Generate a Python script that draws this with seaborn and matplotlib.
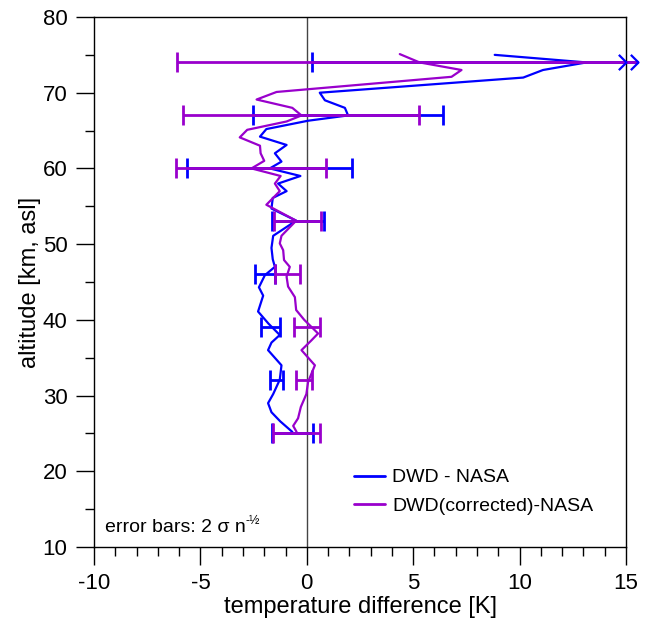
import numpy as np
import pandas as pd
import matplotlib
matplotlib.use("Agg")
import matplotlib.pyplot as plt
from matplotlib.path import Path
from matplotlib.ticker import MultipleLocator
import seaborn as sns

# ---- data ----
alt_blue = [75.0, 74.0, 73.0, 72.0, 70.0, 69.0, 68.0, 67.0, 66.3, 65.2, 64.2, 63.1, 62.0, 60.9,
            60.0, 59.0, 58.0, 57.0, 56.1, 54.7, 53.1, 51.1, 49.5, 48.0, 47.0, 45.9, 44.3, 43.2,
            41.1, 39.5, 38.0, 37.0, 36.0, 34.0, 32.1, 30.2, 29.0, 27.8, 26.6, 25.2]
dT_blue = [8.83, 13.14, 11.1, 10.17, 0.61, 0.85, 1.79, 1.94, 0.06, -1.9, -2.2, -0.95, -1.5, -1.19,
           -1.74, -0.3, -1.35, -0.95, -1.6, -1.66, -0.5, -1.58, -1.66, -1.6, -1.5, -1.97, -2.25, -2.05,
           -2.29, -1.8, -1.27, -1.66, -1.82, -1.19, -1.27, -1.58, -1.82, -1.66, -1.25, -0.68]

alt_purple = [75.1, 74.0, 73.0, 72.1, 70.1, 69.1, 68.0, 67.0, 66.2, 65.1, 64.1, 63.0, 62.0, 61.0,
              60.0, 59.0, 58.0, 57.0, 55.2, 53.1, 51.1, 50.1, 49.2, 47.9, 47.0, 45.7, 44.4, 43.0,
              41.3, 40.0, 38.2, 37.3, 36.0, 34.0, 31.8, 30.2, 28.5, 27.0, 26.0, 25.2]
dT_purple = [4.37, 5.3, 7.27, 6.8, -1.42, -2.36, -0.68, -0.25, -0.95, -2.8, -3.15, -2.2, -2.17, -2.0,
             -2.6, -1.23, -1.5, -1.27, -1.9, -0.5, -1.19, -1.27, -1.11, -1.07, -0.8, -0.95, -0.88, -0.56,
             -0.5, -0.12, 0.53, 0.22, -0.25, 0.38, 0.06, -0.02, -0.28, -0.41, -0.64, -0.48]

err_alt = [74, 67, 60, 53, 46, 39, 32, 25]
err_center_blue = [13.14, 1.94, -1.76, -0.41, -1.97, -1.72, -1.41, -0.68]
err_half_blue = [12.9, 4.45, 3.89, 1.22, 0.47, 0.45, 0.30, 0.95]
err_center_purple = [5.3, -0.26, -2.62, -0.44, -0.90, 0.0, -0.12, -0.48]
err_half_purple = [11.4, 5.55, 3.54, 1.10, 0.60, 0.60, 0.38, 1.10]

series_names = ["DWD - NASA", "DWD(corrected)-NASA"]
colors = ["#0000FF", "#9900CC"]

XMIN, XMAX = -10, 15
YMIN, YMAX = 10, 80

sns.set_style("white")
plt.rcParams["font.family"] = ["Liberation Sans", "DejaVu Sans"]
plt.rcParams["axes.unicode_minus"] = False
plt.rcParams["text.color"] = "black"
plt.rcParams["axes.labelcolor"] = "black"
plt.rcParams["xtick.color"] = "black"
plt.rcParams["ytick.color"] = "black"

df = pd.concat([
    pd.DataFrame({"dT": dT_blue, "alt": alt_blue, "series": series_names[0]}),
    pd.DataFrame({"dT": dT_purple, "alt": alt_purple, "series": series_names[1]}),
], ignore_index=True)

fig = plt.figure(figsize=(6.51, 6.23), dpi=100)
ax = fig.add_axes([94 / 651, 1 - 547 / 623, 532 / 651, 530 / 623])

ax.axvline(0, color="#444444", lw=1.0, zorder=1)

sns.lineplot(data=df, x="dT", y="alt", hue="series", sort=False, estimator=None,
             palette=dict(zip(series_names, colors)), lw=1.6, ax=ax, zorder=3)

chevron = Path([(-1, 1), (0, 0), (-1, -1)], [Path.MOVETO, Path.LINETO, Path.LINETO])
over = 0.55
for centers, halves, col in [(err_center_blue, err_half_blue, colors[0]),
                             (err_center_purple, err_half_purple, colors[1])]:
    for a, c, h in zip(err_alt, centers, halves):
        left, right = c - h, c + h
        right_draw = min(right, XMAX + over)
        ax.hlines(a, left, right_draw, color=col, lw=2.0, clip_on=False, zorder=4)
        capx = [left] + ([right] if right <= XMAX else [])
        ax.plot(capx, [a] * len(capx), ls="none", marker="|", ms=14, mew=2.0,
                color=col, clip_on=False, zorder=4)

# arrows marking error bars that leave the plot
ax.plot([XMAX, XMAX + over], [err_alt[0]] * 2, ls="none", marker=chevron, ms=11,
        mew=1.6, mfc="none", mec=colors[0], clip_on=False, zorder=5)

ax.set_xlim(XMIN, XMAX)
ax.set_ylim(YMIN, YMAX)
ax.xaxis.set_major_locator(MultipleLocator(5))
ax.xaxis.set_minor_locator(MultipleLocator(1))
ax.yaxis.set_major_locator(MultipleLocator(10))
ax.yaxis.set_minor_locator(MultipleLocator(5))
ax.tick_params(which="major", direction="out", length=13, width=1.0, labelsize=16,
               bottom=True, left=True, top=False, right=False, colors="black", pad=6)
ax.tick_params(which="minor", direction="out", length=6.5, width=1.0,
               bottom=True, left=True, top=False, right=False, colors="black")
for sp in ax.spines.values():
    sp.set_color("black")
    sp.set_linewidth(1.0)

ax.set_xlabel("temperature difference [K]", fontsize=17, labelpad=1, color="black")
ax.set_ylabel("altitude [km, asl]", fontsize=17, labelpad=1, color="black")

handles, labels = ax.get_legend_handles_labels()
for hd in handles:
    hd.set_linewidth(2.0)
leg = ax.legend(handles, labels, loc="lower left", bbox_to_anchor=(0.455, 0.028), frameon=False,
                fontsize=14, handlelength=1.6, handletextpad=0.4, labelspacing=0.55)
for txt in leg.get_texts():
    txt.set_color("black")

t1 = ax.text(0.02, 0.028, "error bars: 2 σ n", transform=ax.transAxes, fontsize=14,
             ha="left", va="baseline", color="black")
ax.annotate("-½", xy=(1.0, 0.55), xycoords=t1, fontsize=9, ha="left", va="bottom", color="black")

fig.savefig("out.png", dpi=100)
